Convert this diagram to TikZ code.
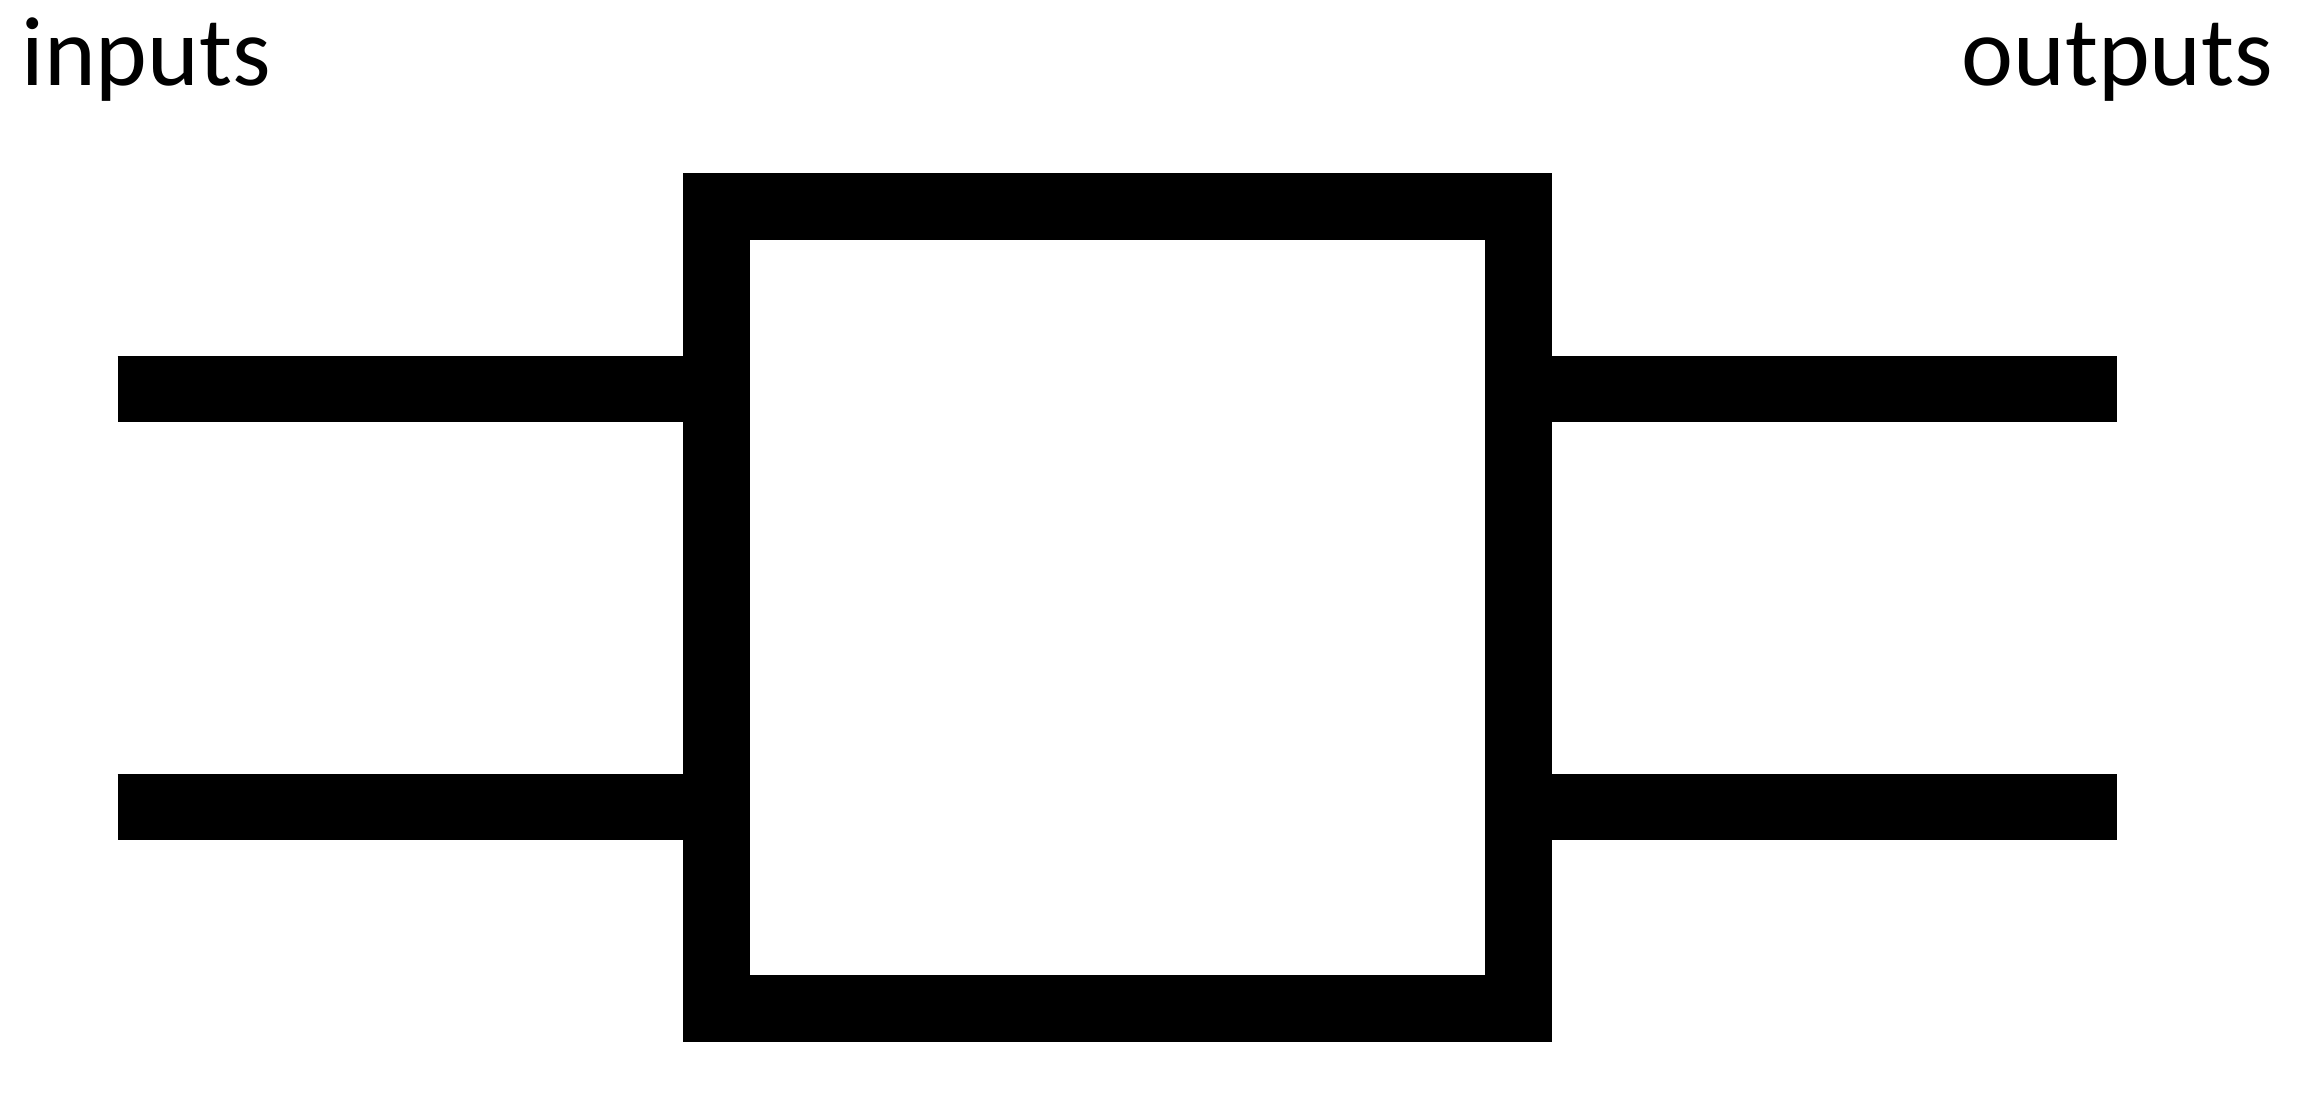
\documentclass[tikz,border=0pt]{standalone}
\usepackage{fontspec}
\setmainfont{Carlito}
\begin{document}
\begin{tikzpicture}[x=0.01cm,y=-0.01cm,
  thick line/.style={line width=0.667cm, line cap=butt},
  blockbox/.style={draw, line width=0.667cm, minimum width=8.01cm, minimum height=8.01cm, inner sep=0pt, outer sep=0pt},
  label text/.style={font=\fontsize{28}{30}\selectfont, inner sep=0pt}]
\useasboundingbox (0,0) rectangle (2305,1109);
\node[blockbox] (box) at (1117.5,607.5) {};
\coordinate (in1) at (117.6,389);
\coordinate (in2) at (117.6,807);
\coordinate (out1) at (2117,389);
\coordinate (out2) at (2117,807);
\draw[thick line] (in1) -- (in1 -| box.west);
\draw[thick line] (in2) -- (in2 -| box.west);
\draw[thick line] (box.east |- out1) -- (out1);
\draw[thick line] (box.east |- out2) -- (out2);
\node[label text, anchor=base west] (inputs) at (21,85) {inputs};
\node[label text, anchor=base east] (outputs) at (2274,85) {outputs};
\end{tikzpicture}
\end{document}
